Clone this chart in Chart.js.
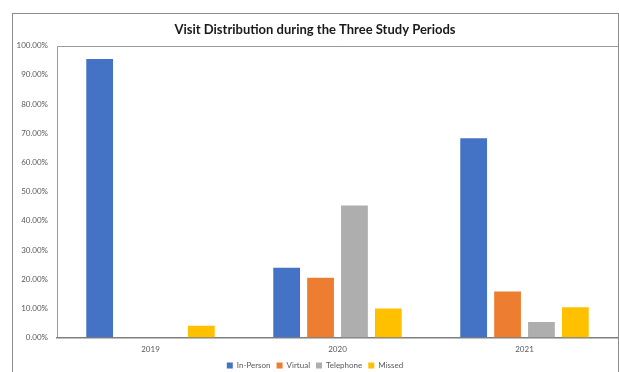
<!DOCTYPE html>
<html>
<head>
<meta charset="utf-8">
<script src="https://cdn.jsdelivr.net/npm/chart.js@4/dist/chart.umd.min.js"></script>
<style>
  html, body { margin: 0; padding: 0; background: #fff; overflow: hidden; }
  #wrap { width: 619px; height: 372px; }
</style>
</head>
<body>
<div id="wrap"><canvas id="chart" width="619" height="372"></canvas></div>
<script>
const categories = ["2019", "2020", "2021"];
const seriesNames = ["In-Person", "Virtual", "Telephone", "Missed"];
const inPerson = [95.4, 23.9, 68.3];
const virtual = [0, 20.5, 15.8];
const telephone = [0, 45.2, 5.3];
const missed = [4.0, 9.9, 10.4];
const yTickMin = 0, yTickMax = 100, yTickStep = 10;

const colors = ["#4472C4", "#ED7D31", "#AEAEAE", "#FFC000"];
const values = [inPerson, virtual, telephone, missed];

// outer chart frame + plot area frame, like the spreadsheet chart
const frames = {
  id: "frames",
  afterDraw(chart) {
    const { ctx, chartArea: a } = chart;
    ctx.save();
    ctx.strokeStyle = "#8c8c8c";
    ctx.lineWidth = 1;
    ctx.strokeRect(12.5, 13.5, 606, 420);
    ctx.strokeStyle = "#999";
    ctx.beginPath();
    ctx.moveTo(Math.round(a.left) + 0.5, a.bottom);
    ctx.lineTo(Math.round(a.left) + 0.5, Math.round(a.top) + 0.5);
    ctx.lineTo(a.right, Math.round(a.top) + 0.5);
    ctx.stroke();
    ctx.restore();
  },
};

new Chart(document.getElementById("chart"), {
  type: "bar",
  data: {
    labels: categories,
    datasets: seriesNames.map((name, i) => ({
      label: name, data: values[i], backgroundColor: colors[i],
      categoryPercentage: 0.725, barPercentage: 0.79,
    })),
  },
  plugins: [frames],
  options: {
    responsive: false, devicePixelRatio: 1, animation: false,
    layout: { padding: { left: 12, right: 1, top: 0, bottom: -7.5 } },
    scales: {
      x: {
        grid: { display: false, drawTicks: false },
        border: { display: true, color: "#7f7f7f", width: 1.5 },
        ticks: { color: "#595959", font: { family: "Lato", size: 8 }, padding: 7 },
        afterFit: (s) => { s.height = 18; },
      },
      y: {
        min: yTickMin, max: yTickMax,
        grid: { display: false, drawTicks: false },
        border: { display: false },
        ticks: {
          stepSize: yTickStep, color: "#595959", padding: 9,
          font: { family: "Lato", size: 8 },
          callback: (v) => v.toFixed(2) + "%",
        },
        afterFit: (s) => { s.width = 45; },
      },
    },
    plugins: {
      title: {
        display: true, text: "Visit Distribution during the Three Study Periods",
        color: "#1a1a1a", font: { family: "Lato", size: 13, weight: "bold" },
        padding: { top: 22, bottom: 8 },
      },
      legend: {
        position: "bottom",
        labels: { color: "#595959", font: { family: "Lato", size: 8 }, boxWidth: 6, boxHeight: 6, padding: 6 },
      },
      tooltip: { enabled: false },
    },
  },
});
</script>
</body>
</html>
